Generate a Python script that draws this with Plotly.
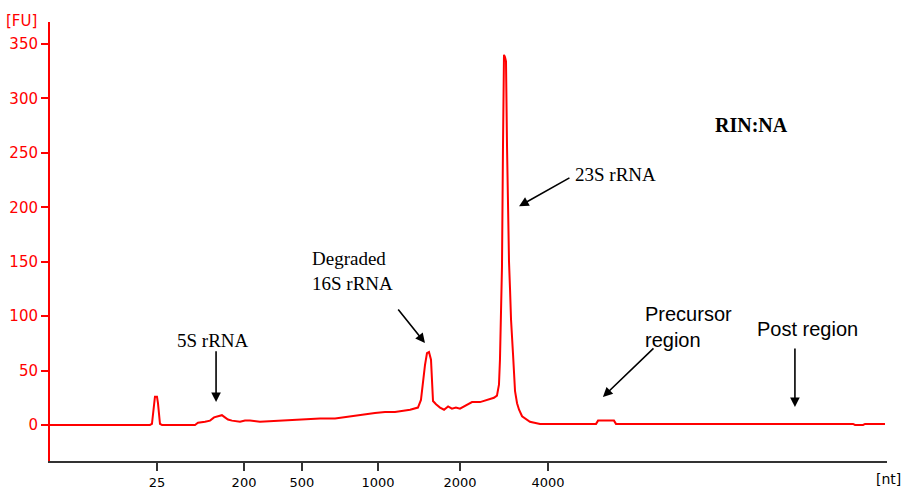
import plotly.graph_objects as go

# Migration time (s) and fluorescence (FU)
time_s = [19.00, 24.97, 25.09, 25.21, 25.27, 25.39, 25.45, 25.57, 25.69, 27.66,
          27.84, 28.26, 28.56, 28.80, 29.04, 29.27, 29.45, 29.63, 29.87, 30.35,
          30.65, 30.95, 31.54, 32.74, 33.93, 35.13, 36.03, 36.92, 37.82, 38.41,
          39.01, 39.61, 40.51, 40.98, 41.16, 41.28, 41.40, 41.52, 41.64, 41.76,
          41.82, 41.88, 42.06, 42.30, 42.54, 42.78, 43.01, 43.25, 43.49, 43.85,
          44.21, 44.69, 45.16, 45.52, 45.70, 45.82, 45.88, 45.94, 46.00, 46.06,
          46.12, 46.18, 46.24, 46.30, 46.36, 46.42, 46.48, 46.54, 46.66, 46.78,
          46.90, 47.02, 47.20, 47.44, 47.67, 48.27, 51.62, 51.74, 52.69, 52.81,
          66.97, 67.09, 67.57, 67.69, 68.88]
fu = [0, 0, 1, 20, 26, 26, 20, 1, 0, 0,
      2, 3, 4, 7, 8, 9, 7, 5, 4, 3,
      4, 4, 3, 4, 5, 6, 6, 8, 10, 11,
      12, 12, 14, 16, 23, 40, 55, 66, 67, 60,
      35, 22, 19, 16, 14, 17, 15, 16, 15, 18,
      21, 21, 23, 25, 27, 37, 60, 100, 145, 255,
      340, 338, 334, 257, 182, 150, 125, 97, 65, 31,
      20, 14, 8, 5, 3, 1, 1, 4, 4, 1,
      1, 0, 0, 1, 1]

# Size ladder (nt) and its positions on the time axis
ladder_pos = [25.39, 30.59, 34.05, 38.59, 43.49, 48.75]
ladder_lbl = ["25", "200", "500", "1000", "2000", "4000"]
fu_ticks = [0, 50, 100, 150, 200, 250, 300, 350]

fig = go.Figure()
fig.add_trace(go.Scatter(x=time_s, y=fu, mode="lines",
                         line=dict(color="#ff0000", width=2), hoverinfo="skip"))

serif = "Liberation Serif"
sans = "Liberation Sans"
anns = []
# texts
anns.append(dict(x=28.74, y=78, text="5S rRNA", showarrow=False,
                 font=dict(family=serif, size=19, color="black"), xanchor="center"))
anns.append(dict(x=34.53, y=141, text="Degraded<br>16S rRNA", showarrow=False, align="left",
                 font=dict(family=serif, size=19, color="black"), xanchor="left"))
anns.append(dict(x=50.24, y=229.7, text="23S rRNA", showarrow=False,
                 font=dict(family=serif, size=19, color="black"), xanchor="left"))
anns.append(dict(x=58.61, y=275.6, text="<b>RIN:NA</b>", showarrow=False,
                 font=dict(family=serif, size=20, color="black"), xanchor="left"))
anns.append(dict(x=54.42, y=89.6, text="Precursor<br>region", showarrow=False, align="left",
                 font=dict(family=sans, size=20, color="black"), xanchor="left"))
anns.append(dict(x=61.12, y=88.2, text="Post region", showarrow=False,
                 font=dict(family=sans, size=20, color="black"), xanchor="left"))
# arrows (tail -> head)
arrows = [((28.92, 69), (28.92, 21)),
          ((39.73, 107.5), (41.40, 75.3)),
          ((50.12, 227.8), (47.02, 201)),
          ((55.14, 71.7), (52.03, 25.7)),
          ((63.50, 71.7), (63.50, 16.5))]
for (tx, ty), (hx, hy) in arrows:
    anns.append(dict(x=hx, y=hy, ax=tx, ay=ty, axref="x", ayref="y", xref="x", yref="y",
                     text="", showarrow=True, arrowhead=2, arrowsize=1.2, arrowwidth=1.6,
                     arrowcolor="black"))
# axis unit labels
anns.append(dict(x=-0.0335, y=1.002, xref="paper", yref="paper", text="[FU]", showarrow=False,
                 xanchor="center", yanchor="middle",
                 font=dict(family="DejaVu Sans", size=15, color="#ff0000")))
anns.append(dict(x=1.0012, y=-0.041, xref="paper", yref="paper", text="[nt]", showarrow=False,
                 xanchor="center", yanchor="middle",
                 font=dict(family="DejaVu Sans", size=14, color="black")))

fig.update_layout(
    width=902, height=489,
    margin=dict(l=50, r=15, t=22, b=28, pad=0, autoexpand=False),
    paper_bgcolor="white", plot_bgcolor="white",
    showlegend=False,
    annotations=anns,
    xaxis=dict(range=[19, 69], tickmode="array", tickvals=ladder_pos, ticktext=ladder_lbl,
               automargin=False,
               showgrid=False, zeroline=False, showline=True, linecolor="#333333", linewidth=2,
               ticks="outside", ticklen=8, tickcolor="#333333", tickwidth=1.5,
               tickfont=dict(family="DejaVu Sans", size=13, color="black")),
    yaxis=dict(range=[-33.1, 370.2], tickmode="array", tickvals=fu_ticks, automargin=False,
               showgrid=False, zeroline=False, showline=True, linecolor="#ff0000", linewidth=2,
               ticks="outside", ticklen=7, tickcolor="#ff0000", tickwidth=1.5,
               tickfont=dict(family="DejaVu Sans", size=15, color="#ff0000")),
)

fig.write_html("out.html")
